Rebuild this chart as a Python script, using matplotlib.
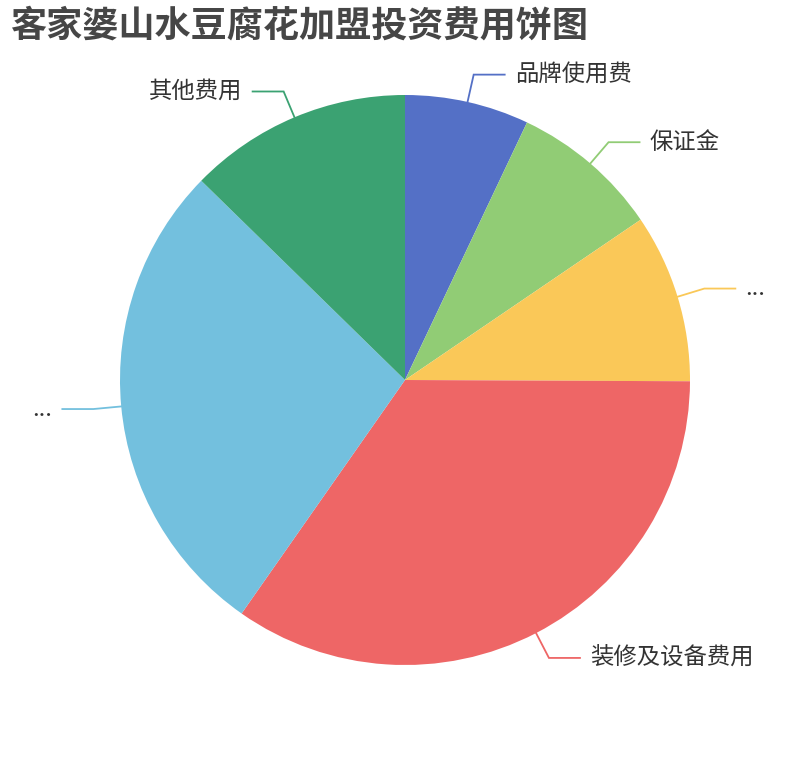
import numpy as np
import matplotlib
matplotlib.use('Agg')
import matplotlib.pyplot as plt

plt.rcParams['font.family'] = ['Noto Sans CJK SC', 'DejaVu Sans']

TITLE = '客家婆山水豆腐花加盟投资费用饼图'
names = ['品牌使用费', '保证金', '...', '装修及设备费用', '...', '其他费用']
values = [2.5, 3.0, 3.4, 12.3, 9.8, 4.5]
colors = ['#5470c6', '#91cc75', '#fac858', '#ee6666', '#73c0de', '#3ba272']

W, H = 810, 760
CX, CY, R = 405, 380, 285
LEN1, LEN2, GAP = 28, 31, 10


def main():
    fig = plt.figure(figsize=(W / 100, H / 100), dpi=100)
    ax = fig.add_axes([0, 0, 1, 1])

    wedges, _ = ax.pie(values, colors=colors, startangle=90, counterclock=False,
                       center=(CX, H - CY), radius=R,
                       wedgeprops=dict(linewidth=0))
    ax.set_xlim(0, W)
    ax.set_ylim(0, H)
    ax.set_aspect('equal')
    ax.axis('off')

    # label lines: radial segment then horizontal segment
    for w, name, c in zip(wedges, names, colors):
        mid = np.deg2rad((w.theta1 + w.theta2) / 2)
        cx, cy = w.center
        x0, y0 = cx + R * np.cos(mid), cy + R * np.sin(mid)
        x1, y1 = cx + (R + LEN1) * np.cos(mid), cy + (R + LEN1) * np.sin(mid)
        side = 1 if np.cos(mid) >= 0 else -1
        x2 = x1 + side * LEN2
        ax.plot([x0, x1, x2], [y0, y1, y1], color=c, linewidth=1.3,
                solid_joinstyle='miter')
        ax.text(x2 + side * GAP, y1, name, fontsize=16.8, color='#333333',
                ha='left' if side > 0 else 'right', va='center')

    fig.text(10 / W, 1 - 26 / H, TITLE, fontsize=26, fontweight='bold',
             color='#464646', ha='left', va='center')

    fig.savefig('out.png', dpi=100)


if __name__ == "__main__":
    main()
